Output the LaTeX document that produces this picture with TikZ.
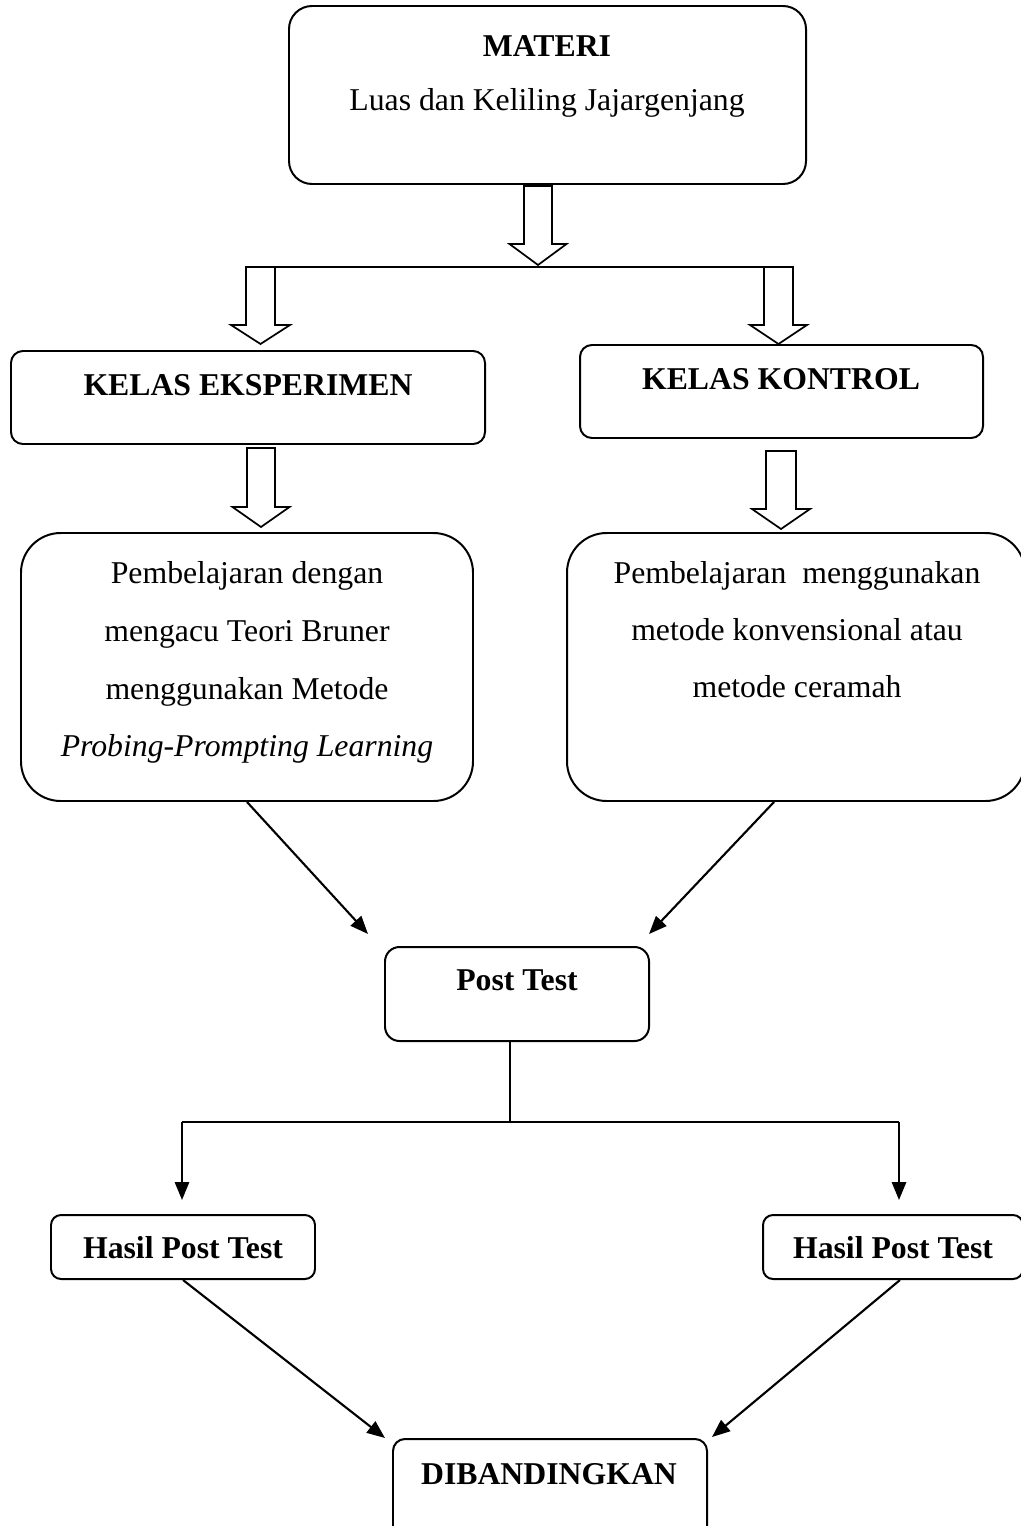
\documentclass[tikz,border=0pt]{standalone}
\usepackage{fontspec}
\setmainfont{Liberation Serif}
\usetikzlibrary{fit,calc,arrows.meta}
\newcommand\myblockarrow[6]{%
  \draw[blk] (#1-#5,#2) -- (#1-#5,#3) -- (#1-#6,#3) -- (#1,#4) -- (#1+#6,#3) -- (#1+#5,#3) -- (#1+#5,#2) -- cycle;}
\begin{document}
\begin{tikzpicture}[x=0.378pt,y=-0.378pt,
  box/.style={draw,line width=0.75pt,inner sep=0pt,rounded corners=#1},
  box/.default=4.5pt,
  txt/.style={inner sep=0pt,anchor=base,font=\fontsize{12}{14}\selectfont},
  btxt/.style={inner sep=0pt,anchor=base,font=\fontsize{12}{14}\selectfont\bfseries},
  blk/.style={draw,line width=0.65pt,fill=white,line join=miter},
  arr/.style={draw,line width=0.8pt,-{Triangle[length=6.8pt,width=5.4pt]}},
  ln/.style={draw,line width=0.65pt}]
\fill[white] (0,0) rectangle (1020,1526);
\useasboundingbox (0,0) rectangle (1020,1526);

% boxes
\node[box=8.7pt, fit={(289,6) (806,184)}] (materi) {};
\node[box=4.5pt, fit={(11,351) (485,444)}] (kelasE) {};
\node[box=4.5pt, fit={(580,345) (983,438)}] (kelasK) {};
\node[box=15pt, fit={(21,533) (473,801)}] (bigL) {};
\node[box=15pt, fit={(567,533) (1025,801)}] (bigR) {};
\node[box=5.5pt, fit={(385,947) (649,1041)}] (post) {};
\node[box=3.8pt, fit={(51,1215) (315,1279)}] (hasilL) {};
\node[box=3.8pt, fit={(763,1215) (1023,1279)}] (hasilR) {};
\node[box=4.5pt, fit={(393,1439) (707,1545)}] (banding) {};

% texts
\node[btxt] (tMateri) at (547,57) {MATERI};
\node[txt] (tLuas) at (547,111) {Luas dan Keliling Jajargenjang};
\node[btxt] (tKE) at (248,395) {KELAS EKSPERIMEN};
\node[btxt] (tKK) at (781,389) {KELAS KONTROL};
\node[txt] (tL1) at (247,583) {Pembelajaran dengan};
\node[txt] (tL2) at (247,641) {mengacu Teori Bruner};
\node[txt] (tL3) at (247,699) {menggunakan Metode};
\node[txt] (tL4) at (247,756) {\itshape Probing-Prompting Learning};
\node[txt] (tR1) at (797,583) {Pembelajaran\ \ menggunakan};
\node[txt] (tR2) at (797,640) {metode konvensional atau};
\node[txt] (tR3) at (797,697) {metode ceramah};
\node[btxt] (tPost) at (517,990) {Post Test};
\node[btxt] (tHL) at (183,1258) {Hasil Post Test};
\node[btxt] (tHR) at (893,1258) {Hasil Post Test};
\node[btxt] (tBand) at (549,1484) {DIBANDINGKAN};

% block arrows
\myblockarrow{538}{186}{244}{265}{14}{28.5}
\coordinate (hl) at (246,267);
\coordinate (hr) at (793,267);
\draw[ln] (hl) -- (hr);
\myblockarrow{260.5}{267}{325}{344}{14.5}{29.5}
\myblockarrow{778.5}{267}{325}{344}{14.5}{28.5}
\myblockarrow{261}{448}{507}{527}{14}{28.5}
\myblockarrow{781}{451}{509}{529}{15}{29}

% diagonal arrows to Post Test
\coordinate (pTL) at (368,934);
\coordinate (pTR) at (649,934);
\draw[arr] (bigL.south) -- (pTL);
\draw[arr] ($(bigR.south)+(-22,0)$) -- (pTR);

% split from Post Test
\coordinate (jc) at (510,1122);
\coordinate (jl) at (182,1122);
\coordinate (jr) at (899,1122);
\coordinate (aL) at (182,1200);
\coordinate (aR) at (899,1200);
\draw[ln] ($(post.south)+(-7,0)$) -- (jc);
\draw[ln] (jl) -- (jr);
\draw[arr] (jl) -- (aL);
\draw[arr] (jr) -- (aR);

% to DIBANDINGKAN
\coordinate (bTL) at (385,1438);
\coordinate (bTR) at (712,1437);
\draw[arr] (hasilL.south) -- (bTL);
\draw[arr] ($(hasilR.south)+(7,0)$) -- (bTR);
\end{tikzpicture}
\end{document}
